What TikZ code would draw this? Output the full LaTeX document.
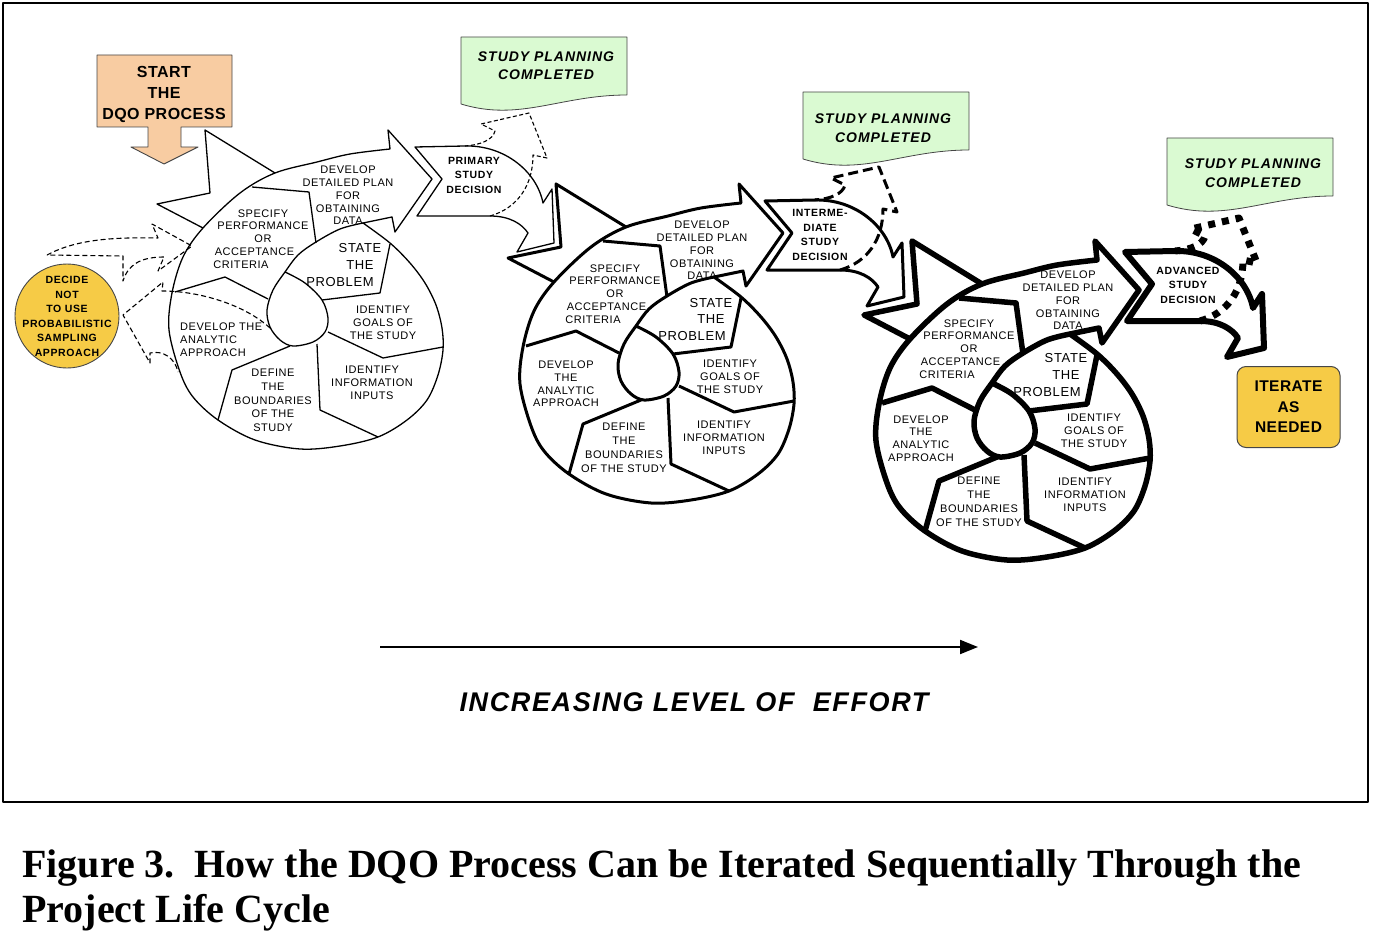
\documentclass[tikz,border=0pt]{standalone}
\usepackage{fontspec}
\setmainfont{Liberation Sans}
\newfontfamily\lab[LetterSpace=5]{Liberation Sans}
\newfontfamily\labB[LetterSpace=6]{Liberation Sans}
\newfontfamily\labC[LetterSpace=3]{Liberation Sans}
\newfontfamily\labD[LetterSpace=7]{Liberation Sans}
\newfontfamily\capf{Liberation Serif}
\usetikzlibrary{arrows.meta}
\definecolor{peach}{RGB}{248,204,162}
\definecolor{ylw}{RGB}{246,203,70}
\definecolor{grn}{RGB}{218,250,210}
\definecolor{edgec}{RGB}{70,70,70}
\newcommand\fs[2]{\fontsize{#1}{#2}\selectfont}
\newcommand\pd[1]{\hbox to #1pt{}}

\newcommand\spiralbody[1]{%
\begin{scope}[#1]
\draw (363,223) -- (392,217) -- (395,232) -- (432,179) -- (388,130) -- (390,149)
  -- plot[smooth, tension=0.55] coordinates {(390,149) (350,154) (317,162) (275,173) (240,193) (203,228) (183,257) (172,293) (169,330) (180,372) (193,397) (218,420) (255,440) (300,449) (340,446) (378,437) (407,420) (427,400) (438,375) (443,350) (442,328) (436,305) (425,283) (410,263) (390,243) (363,223)} -- cycle;
\draw plot[smooth, tension=0.55] coordinates {(363,223) (340,229) (316,242) (298,255) (285,272) (273,290) (267,310) (270,327) (280,340) (293,346) (313,342) (325,332) (328,318) (322,300) (305,283) (285,272)};
\draw (252,187) -- (309,192) -- (316,243);
\draw (175,292) -- (225,277) -- (268,299);
\draw (290,346) -- (232,370) -- (218,420);
\draw (317,344) -- (320,410) -- (378,437);
\draw (328,332) -- (383,358) -- (443,347);
\draw (322,300) -- (380,293) -- (390,244);
\draw (275,173) -- (205,130) -- (210,193) -- (157,204) -- (203,228);
\end{scope}}

\newcommand\decshape[1]{\draw[#1] (415,147) -- (465,146) .. controls (505,145) and (537,172) .. (543,203) -- (552,189) -- (554,243) -- (517,252) -- (528,233) .. controls (522,224) and (510,216) .. (490,216) -- (417,216) -- (442,179) -- cycle;}
\newcommand\decarrow[1]{\draw[#1] (490,216) .. controls (518,208) and (533,185) .. (533,155) -- (547,158) -- (529,113) -- (481,124) -- (495,131) .. controls (493,140) and (480,145) .. (465,146);}
\newcommand\docbox[1]{\draw[fill=grn, draw=edgec, line width=0.8, #1] (461,37) -- (627,37) -- (627,95) .. controls (560,95) and (520,122) .. (461,104) -- cycle;}

\tikzset{
  lbl/.style={font=\lab\fs{11}{12.8}, align=center, inner sep=0},
  lblst/.style={font=\lab\fs{13}{16.8}, align=center, inner sep=0},
  decl/.style={font=\labB\bfseries\fs{10.5}{14.5}, align=center, inner sep=0},
  spc/.style={font=\labD\bfseries\itshape\fs{14}{18.5}, align=center, inner sep=0},
  thin1/.style={line width=1.3},
  thin2/.style={line width=3},
  thin3/.style={line width=5.5},
}

\begin{document}
\begin{tikzpicture}[x=1pt,y=-1pt,line join=round]
\useasboundingbox (0,0) rectangle (1378,944);
\draw[line width=1.5] (3,3) rectangle (1368,802);

% spirals
\spiralbody{thin1}
\spiralbody{shift={(351,54)}, thin2}
\spiralbody{shift={(707,111)}, thin3}

% decision shapes
\decshape{line width=1.3}
\decshape{shift={(350,54)}, line width=3}
\decshape{shift={(710,105)}, line width=6}

% dashed arrows to completed boxes
\decarrow{line width=1.1, dash pattern=on 4 off 2.5}
\decarrow{shift={(350,54)}, line width=3, dash pattern=on 10 off 5}
\decarrow{shift={(710,105)}, line width=7, dash pattern=on 7 off 7}

% study planning boxes
\docbox{}
\docbox{shift={(342,55)}}
\docbox{shift={(706,101)}}
\node[spc] (spc1) at (546,65.5) {STUDY PLANNING\\COMPLETED};
\node[spc] (spc2) at (883,128) {STUDY PLANNING\\COMPLETED};
\node[spc] (spc3) at (1253,173) {STUDY PLANNING\\COMPLETED};

% start box
\draw[fill=peach, draw=edgec, line width=0.9] (97,55) -- (232,55) -- (232,127) -- (181,127) -- (181,147) -- (198,147) -- (164,164) -- (131,147) -- (148,147) -- (148,127) -- (97,127) -- cycle;
\node[font=\labC\bfseries\fs{16}{21}, align=center, inner sep=0] (start) at (164,94) {START\\THE\\DQO PROCESS};

% decide circle
\draw[fill=ylw, draw=edgec, line width=0.9] (67,316) circle (52);
\node[font=\labB\bfseries\fs{10.5}{14.5}, align=center, inner sep=0] (decide) at (67,316.5) {DECIDE\\NOT\\TO USE\\PROBABILISTIC\\SAMPLING\\APPROACH};

% dashed arrows near decide
\draw[line width=1.1, dash pattern=on 5 off 3] (47,255) .. controls (75,240) and (110,237) .. (158,238) -- (152,224) -- (192,246) -- (158,271) -- (164,257) .. controls (140,257) and (128,265) .. (123,281) -- (123,256) -- cycle;
\draw[line width=1.1, dash pattern=on 5 off 3] (270,328) .. controls (245,305) and (200,291) .. (162,291) -- (163,282) -- (123,315) -- (150,363) -- (150,353) .. controls (163,350) and (175,358) .. (178,372);

% decision texts
\node[decl] (prim) at (474,175) {PRIMARY\\STUDY\\DECISION};
\node[decl] (inter) at (820,235) {INTERME-\\DIATE\\STUDY\\DECISION};
\node[decl] (adv) at (1188,285) {ADVANCED\\STUDY\\DECISION};

% iterate
\node[draw=edgec, fill=ylw, line width=1, rounded corners=9, minimum width=103, minimum height=81, inner sep=0, font=\labC\bfseries\fs{15.5}{20.5}, align=center] (iter) at (1288.5,407) {ITERATE\\AS\\NEEDED};

% spiral 1 labels
\node[lbl] (a1) at (348,195.5) {DEVELOP\\DETAILED PLAN\\FOR\\OBTAINING\\DATA};
\node[lbl] (b1) at (263,239) {SPECIFY\\PERFORMANCE\\OR\\ACCEPTANCE\pd{17}\\CRITERIA\pd{44}};
\node[lblst] (c1) at (360,265) {STATE\\THE\\PROBLEM\pd{40}};
\node[lbl] (d1) at (383,323) {IDENTIFY\\GOALS OF\\THE STUDY};
\node[lbl] (e1) at (372,383) {IDENTIFY\\INFORMATION\\INPUTS};
\node[lbl, align=left, anchor=west] (f1) at (180,340) {DEVELOP THE\\ANALYTIC\\APPROACH};
\node[lbl, font=\lab\fs{11}{13.7}] (g1) at (273,400.5) {DEFINE\\THE\\BOUNDARIES\\OF THE\\STUDY};

% spiral 2 labels
\node[lbl] (a2) at (702,250.5) {DEVELOP\\DETAILED PLAN\\FOR\\OBTAINING\\DATA};
\node[lbl] (b2) at (615,294) {SPECIFY\\PERFORMANCE\\OR\\ACCEPTANCE\pd{17}\\CRITERIA\pd{44}};
\node[lblst] (c2) at (711,319.5) {STATE\\THE\\PROBLEM\pd{38}};
\node[lbl] (d2) at (730,377) {IDENTIFY\\GOALS OF\\THE STUDY};
\node[lbl] (e2) at (724,437.5) {IDENTIFY\\INFORMATION\\INPUTS};
\node[lbl] (f2) at (566,384) {DEVELOP\\THE\\ANALYTIC\\APPROACH};
\node[lbl, font=\lab\fs{11}{14}] (g2) at (624,448) {DEFINE\\THE\\BOUNDARIES\\OF THE STUDY};

% spiral 3 labels
\node[lbl] (a3) at (1068,300.5) {DEVELOP\\DETAILED PLAN\\FOR\\OBTAINING\\DATA};
\node[lbl] (b3) at (969,349) {SPECIFY\\PERFORMANCE\\OR\\ACCEPTANCE\pd{17}\\CRITERIA\pd{44}};
\node[lblst] (c3) at (1066,375) {STATE\\THE\\PROBLEM\pd{38}};
\node[lbl] (d3) at (1094,431) {IDENTIFY\\GOALS OF\\THE STUDY};
\node[lbl] (e3) at (1085,494.5) {IDENTIFY\\INFORMATION\\INPUTS};
\node[lbl] (f3) at (921,438.5) {DEVELOP\\THE\\ANALYTIC\\APPROACH};
\node[lbl, font=\lab\fs{11}{14}] (g3) at (979,502) {DEFINE\\THE\\BOUNDARIES\\OF THE STUDY};

% effort arrow
\coordinate (effs) at (380,647);
\coordinate (effe) at (978,647);
\draw[line width=2, -{Triangle[length=18,width=14]}] (effs) -- (effe);
\node[font=\labB\bfseries\itshape\fs{27}{30}, inner sep=0] (effort) at (694,702) {INCREASING LEVEL OF\ \ EFFORT};

% caption
\node[anchor=base west, inner sep=0, font=\capf\bfseries\fs{40}{45}] (cap1) at (22,877) {Figure 3.\hspace{20pt}How the DQO Process Can be Iterated Sequentially Through the};
\node[anchor=base west, inner sep=0, font=\capf\bfseries\fs{40}{45}] (cap2) at (22,922) {Project Life Cycle};
\end{tikzpicture}
\end{document}
